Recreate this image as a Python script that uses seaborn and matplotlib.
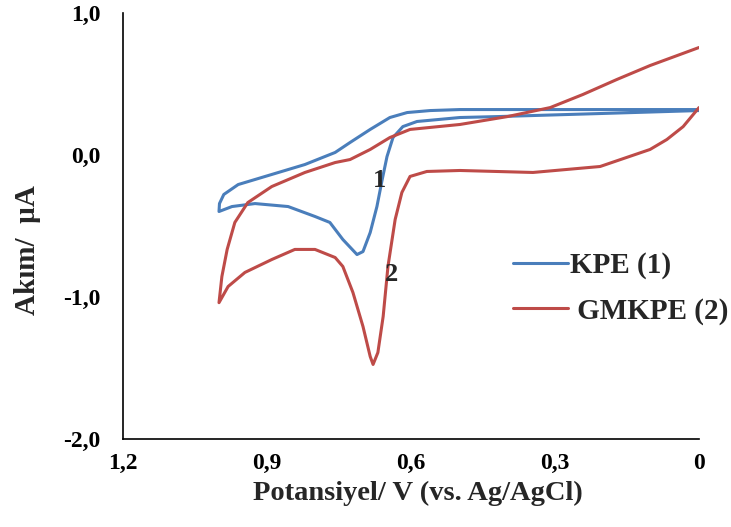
import numpy as np
import pandas as pd
import matplotlib
matplotlib.use("Agg")
import matplotlib.pyplot as plt
import seaborn as sns

# KPE (1): forward scan 0 -> 1.0 V, then return 1.0 -> 0 V
kpe_fwd_E = [0.00, 0.206, 0.415, 0.498, 0.560, 0.608, 0.644, 0.685, 0.727, 0.758, 0.821, 0.890, 0.960, 0.990, 0.999, 1.000]
kpe_fwd_I = [0.32, 0.32, 0.32, 0.32, 0.313, 0.299, 0.264, 0.180, 0.088, 0.018, -0.067, -0.137, -0.208, -0.278, -0.342, -0.398]
kpe_ret_E = [1.000, 0.973, 0.925, 0.856, 0.800, 0.769, 0.742, 0.7125, 0.700, 0.685, 0.671, 0.660, 0.650, 0.6375, 0.617, 0.5875, 0.498, 0.415, 0.206, 0.00]
kpe_ret_I = [-0.398, -0.363, -0.342, -0.363, -0.433, -0.475, -0.595, -0.701, -0.680, -0.546, -0.363, -0.173, -0.011, 0.123, 0.20, 0.236, 0.264, 0.271, 0.292, 0.313]

# GMKPE (2)
gm_fwd_E = [0.00, 0.102, 0.171, 0.242, 0.31, 0.40, 0.498, 0.602, 0.644, 0.685, 0.727, 0.758, 0.821, 0.890, 0.940, 0.967, 0.983, 0.994, 1.000]
gm_fwd_I = [0.757, 0.63, 0.532, 0.426, 0.334, 0.27, 0.215, 0.18, 0.123, 0.039, -0.032, -0.053, -0.123, -0.222, -0.335, -0.475, -0.665, -0.856, -1.04]
gm_ret_E = [1.000, 0.981, 0.946, 0.890, 0.842, 0.800, 0.758, 0.742, 0.721, 0.700, 0.685, 0.679, 0.669, 0.658, 0.648, 0.633, 0.619, 0.602, 0.567, 0.498, 0.346, 0.206, 0.102, 0.067, 0.033, 0.00]
gm_ret_I = [-1.04, -0.926, -0.827, -0.736, -0.665, -0.665, -0.722, -0.785, -0.968, -1.208, -1.419, -1.475, -1.391, -1.137, -0.785, -0.454, -0.264, -0.151, -0.116, -0.109, -0.123, -0.081, 0.039, 0.109, 0.20, 0.334]

series_names = ["KPE (1)", "GMKPE (2)"]
legend_labels = ["KPE (1)", " GMKPE (2)"]
colors = ["#4A7EBB", "#BE4B48"]
x_ticks = [1.2, 0.9, 0.6, 0.3, 0.0]
x_ticklabels = ["1,2", "0,9", "0,6", "0,3", "0"]
y_ticks = [1.0, 0.0, -1.0, -2.0]
y_ticklabels = ["1,0", "0,0", "-1,0", "-2,0"]

sns.set_style("white")
plt.rcParams['font.family'] = ['Liberation Serif', 'DejaVu Serif']
plt.rcParams['font.weight'] = 'bold'

rows = []
for name, E, I in [(series_names[0], kpe_fwd_E + kpe_ret_E, kpe_fwd_I + kpe_ret_I),
                   (series_names[1], gm_fwd_E + gm_ret_E, gm_fwd_I + gm_ret_I)]:
    for k, (e, i) in enumerate(zip(E, I)):
        rows.append({"E": e, "I": i, "series": name, "order": k})
df = pd.DataFrame(rows)

fig = plt.figure(figsize=(7.31, 5.27), dpi=100)
ax = fig.add_axes([123 / 731, 1 - 439 / 527, 576 / 731, 426 / 527])

sns.lineplot(data=df, x="E", y="I", hue="series", palette=colors, sort=False,
             estimator=None, units="series", ax=ax, linewidth=2.2, legend=True)

ax.set_xlim(1.2, 0.0)
ax.set_ylim(-2.0, 1.0)
ax.set_xticks(x_ticks)
ax.set_xticklabels(x_ticklabels, fontsize=17, fontweight='bold')
ax.set_yticks(y_ticks)
ax.set_yticklabels(y_ticklabels, fontsize=17, fontweight='bold')
ax.tick_params(direction='in', length=5, width=1.2, colors='black')
ax.tick_params(axis='x', pad=10)
ax.tick_params(axis='y', pad=16)
for s in ["top", "right"]:
    ax.spines[s].set_visible(False)
for s in ["left", "bottom"]:
    ax.spines[s].set_color("black")
    ax.spines[s].set_linewidth(1.2)

ax.set_xlabel("Potansiyel/ V (vs. Ag/AgCl)", fontsize=20.5, fontweight='bold')
ax.xaxis.set_label_coords((418 - 123) / 576, -(481 - 439) / 426)
ax.set_ylabel("Akım/  µA", fontsize=21, fontweight='bold')
ax.yaxis.set_label_coords((41 - 123) / 576, (439 - 250) / 426)

ax.text(0.665, -0.18, "1", fontsize=19, fontweight='bold', ha='center', va='center')
ax.text(0.641, -0.84, "2", fontsize=19, fontweight='bold', ha='center', va='center')

handles, _ = ax.get_legend_handles_labels()
leg = ax.legend(handles, legend_labels, loc='upper left',
                bbox_to_anchor=(513 / 731, 1 - 252 / 527), bbox_transform=fig.transFigure,
                frameon=False, borderpad=0, borderaxespad=0,
                prop={'size': 21, 'weight': 'bold'}, handlelength=1.9, handletextpad=0.05,
                labelspacing=0.62)

fig.savefig("out.png", dpi=100)
